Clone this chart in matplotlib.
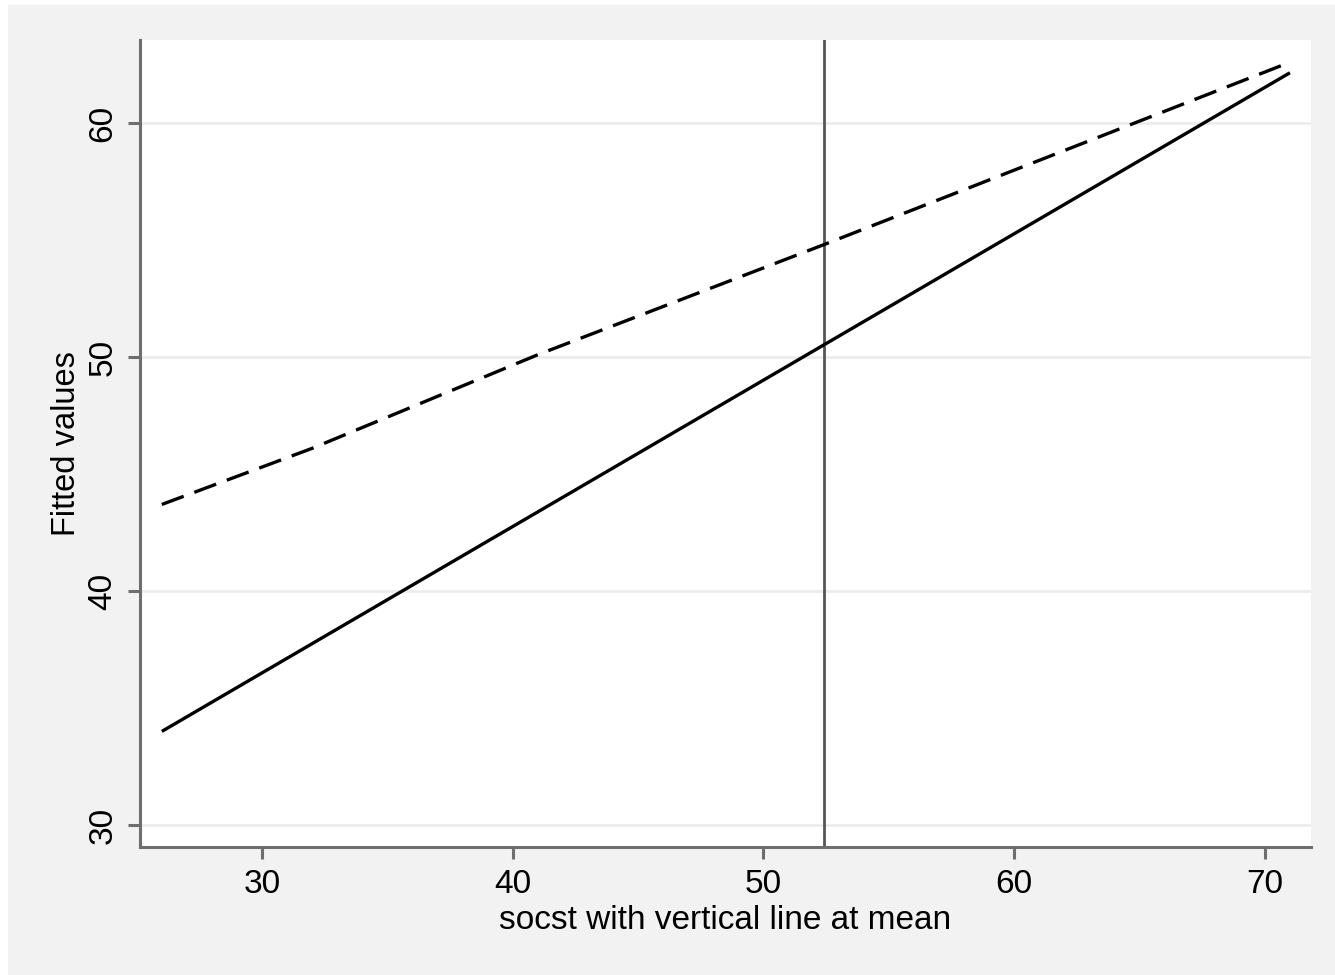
"""Fitted values against socst, with a vertical reference line at the mean."""

import matplotlib.pyplot as plt
from matplotlib.patches import Rectangle

# Fitted values (solid: linear fit, dashed: second model)
solid_x = [26, 71]
solid_y = [34.0, 62.15]
dashed_x = [26, 32, 41, 52.4, 71]
dashed_y = [43.7, 46.1, 50.1, 54.8, 62.6]
mean_socst = 52.4

x_ticks = [30, 40, 50, 60, 70]
y_ticks = [30, 40, 50, 60]

plt.rcParams["font.family"] = ["Liberation Sans", "DejaVu Sans"]

BG = "#f2f2f2"
AXIS = "#6e6e6e"
GRID = "#ececec"

fig = plt.figure(figsize=(13.35, 9.75), dpi=100, facecolor="white")
fig.patches.append(
    Rectangle((8 / 1335, 0), 1, 1 - 5 / 975, transform=fig.transFigure,
              facecolor=BG, edgecolor="none", zorder=-10)
)

ax = fig.add_axes([140 / 1335, 128 / 975, 1171 / 1335, 807 / 975])
ax.set_facecolor("white")

for yt in y_ticks:
    ax.axhline(yt, color=GRID, lw=2, zorder=0)

ax.plot(solid_x, solid_y, color="black", lw=2.4, solid_capstyle="butt", zorder=3)
ax.plot(dashed_x, dashed_y, color="black", lw=2.4, dashes=(7, 3.4), zorder=3)
ax.axvline(mean_socst, color="#555555", lw=2, zorder=2)

ax.set_xlim(25.13, 71.84)
ax.set_ylim(29.06, 63.55)
ax.set_xticks(x_ticks)
ax.set_yticks(y_ticks)
ax.set_yticklabels([str(v) for v in y_ticks], rotation=90, va="center")

ax.spines["top"].set_visible(False)
ax.spines["right"].set_visible(False)
for side in ("left", "bottom"):
    ax.spines[side].set_color(AXIS)
    ax.spines[side].set_linewidth(2.2)

ax.tick_params(axis="both", colors=AXIS, length=8.5, width=2.2, labelsize=24,
               labelcolor="black", pad=7)

ax.set_xlabel("socst with vertical line at mean", fontsize=24, labelpad=4)
ax.set_ylabel("Fitted values", fontsize=23.5, labelpad=4)

fig.savefig("out.png", dpi=100, facecolor=fig.get_facecolor())
plt.close(fig)
